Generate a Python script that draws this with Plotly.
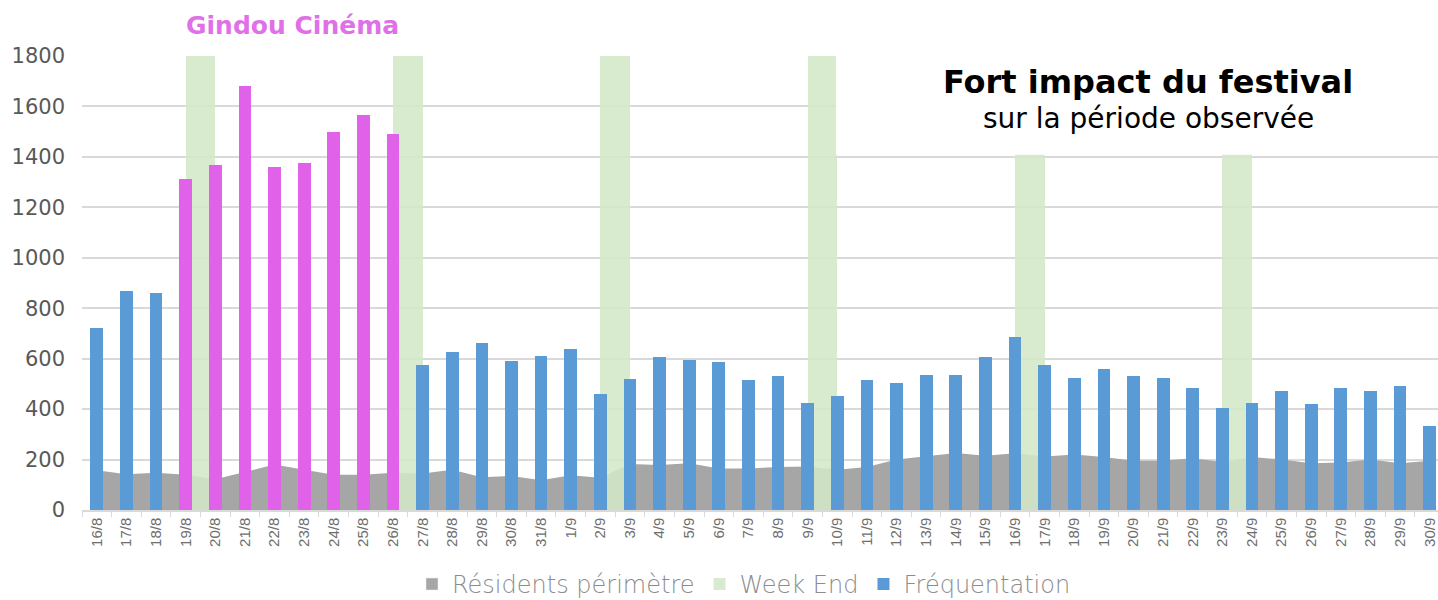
import plotly.graph_objects as go

dates = ["16/8", "17/8", "18/8", "19/8", "20/8", "21/8", "22/8", "23/8", "24/8", "25/8",
         "26/8", "27/8", "28/8", "29/8", "30/8", "31/8", "1/9", "2/9", "3/9", "4/9",
         "5/9", "6/9", "7/9", "8/9", "9/9", "10/9", "11/9", "12/9", "13/9", "14/9",
         "15/9", "16/9", "17/9", "18/9", "19/9", "20/9", "21/9", "22/9", "23/9", "24/9",
         "25/9", "26/9", "27/9", "28/9", "29/9", "30/9"]

frequentation = [721, 869, 862, 1311, 1367, 1680, 1360, 1376, 1497, 1565,
                 1490, 574, 628, 661, 591, 612, 639, 458, 519, 607,
                 596, 586, 514, 530, 426, 453, 514, 503, 535, 535,
                 607, 684, 574, 525, 558, 530, 525, 482, 405, 426,
                 470, 421, 482, 470, 491, 335]

residents = [158, 142, 148, 140, 122, 150, 180, 160, 140, 140,
             148, 145, 160, 130, 135, 118, 138, 128, 182, 178,
             185, 165, 165, 170, 172, 160, 170, 200, 212, 226,
             215, 225, 212, 220, 210, 195, 195, 205, 190, 210,
             200, 185, 188, 200, 185, 195]

weekend_days = ["19/8", "26/8", "2/9", "9/9", "16/9", "23/9"]
weekend_values = [1800, 1800, 1800, 1800, 1800, 1800]

festival_days = ["19/8", "20/8", "21/8", "22/8", "23/8", "24/8", "25/8", "26/8"]

y_ticks = [0, 200, 400, 600, 800, 1000, 1200, 1400, 1600, 1800]

BLUE = "#5B9BD5"
MAGENTA = "#E062E8"
GRAY = "#A6A6A6"
GREEN = "rgba(212,232,200,0.88)"

bar_colors = [MAGENTA if d in festival_days else BLUE for d in dates]

fig = go.Figure()

# residents area (legend shown via a square proxy entry)
fig.add_trace(go.Scatter(
    x=dates, y=residents, name="Résidents périmètre",
    mode="lines", fill="tozeroy", fillcolor=GRAY,
    line=dict(width=0, color=GRAY), xaxis="x", yaxis="y",
    showlegend=False, legendgroup="res", hoverinfo="skip",
))
fig.add_trace(go.Bar(
    x=[dates[0]], y=[None], name="Résidents périmètre",
    marker=dict(color=GRAY), xaxis="x", yaxis="y", legendgroup="res",
    showlegend=True,
))

fig.add_trace(go.Bar(
    x=weekend_days, y=weekend_values, name="Week End",
    width=1, offset=0, marker=dict(color=GREEN, line=dict(width=0)),
    xaxis="x", yaxis="y2",
))

fig.add_trace(go.Bar(
    x=dates, y=frequentation, name="Fréquentation",
    width=0.43, marker=dict(color=bar_colors, line=dict(width=0)),
    xaxis="x", yaxis="y2",
))

L, R, T, B = 82, 0, 56, 89.5
W, H = 1438, 600
pw = W - L - R
ph = H - T - B
spacing = 29.62
xmax = -0.5 + pw / spacing


def px_x(x):
    return (x - L) / pw


def px_y(y):
    return (H - B - y) / ph


FONT = "DejaVu Sans, Verdana, sans-serif"

fig.update_layout(
    width=W, height=H,
    margin=dict(l=L, r=R, t=T, b=B, pad=0, autoexpand=False),
    paper_bgcolor="white", plot_bgcolor="white",
    barmode="overlay",
    bargap=0,
    font=dict(family=FONT, color="#595959"),
    xaxis=dict(
        type="category", categoryorder="array", categoryarray=dates,
        range=[-0.5, xmax], automargin=False,
        tickangle=-90,
        tickfont=dict(family="Liberation Sans, Arial", size=15, color="#6E6E6E"),
        showline=True, linecolor="#D9D9D9", linewidth=1.5,
        ticks="outside", tickson="boundaries", ticklen=5, tickcolor="#D9D9D9",
        showgrid=False, zeroline=False,
    ),
    yaxis=dict(
        range=[0, 1800], tickvals=y_ticks, automargin=False,
        tickfont=dict(family=FONT, size=21, color="#595959"),
        showgrid=True, gridcolor="#D9D9D9", gridwidth=1.5,
        zeroline=False, showline=False, ticks="", ticklabelstandoff=16,
    ),
    yaxis2=dict(
        range=[0, 1800], overlaying="y", showgrid=False, showticklabels=False,
        zeroline=False, showline=False, automargin=False,
    ),
    showlegend=True,
    legend=dict(
        orientation="h", x=px_x(744), xanchor="center", y=px_y(585), yanchor="middle",
        font=dict(family=FONT, size=24, color="#8C8C8C", weight=200),
        traceorder="normal", itemwidth=30, bgcolor="rgba(0,0,0,0)",
    ),
    shapes=[dict(
        type="rect", xref="paper", yref="y",
        x0=px_x(836), x1=1.0, y0=1408, y1=1900,
        fillcolor="white", line=dict(width=0), layer="above",
    )],
    annotations=[
        dict(text="<b>Gindou Cinéma</b>", xref="paper", yref="paper",
             x=px_x(292), y=px_y(25), xanchor="center", yanchor="middle",
             showarrow=False, font=dict(family=FONT, size=25, color="#E070E8")),
        dict(text="<b>Fort impact du festival</b>", xref="paper", yref="paper",
             x=px_x(1148), y=px_y(82), xanchor="center", yanchor="middle",
             showarrow=False, font=dict(family=FONT, size=32, color="#000000")),
        dict(text="sur la période observée", xref="paper", yref="paper",
             x=px_x(1148), y=px_y(119), xanchor="center", yanchor="middle",
             showarrow=False, font=dict(family=FONT, size=28, color="#000000")),
    ],
)

fig.write_html(
    "out.html",
    config={"displayModeBar": False},
    post_script="document.body.style.margin='0';document.body.style.overflow='hidden';",
)
